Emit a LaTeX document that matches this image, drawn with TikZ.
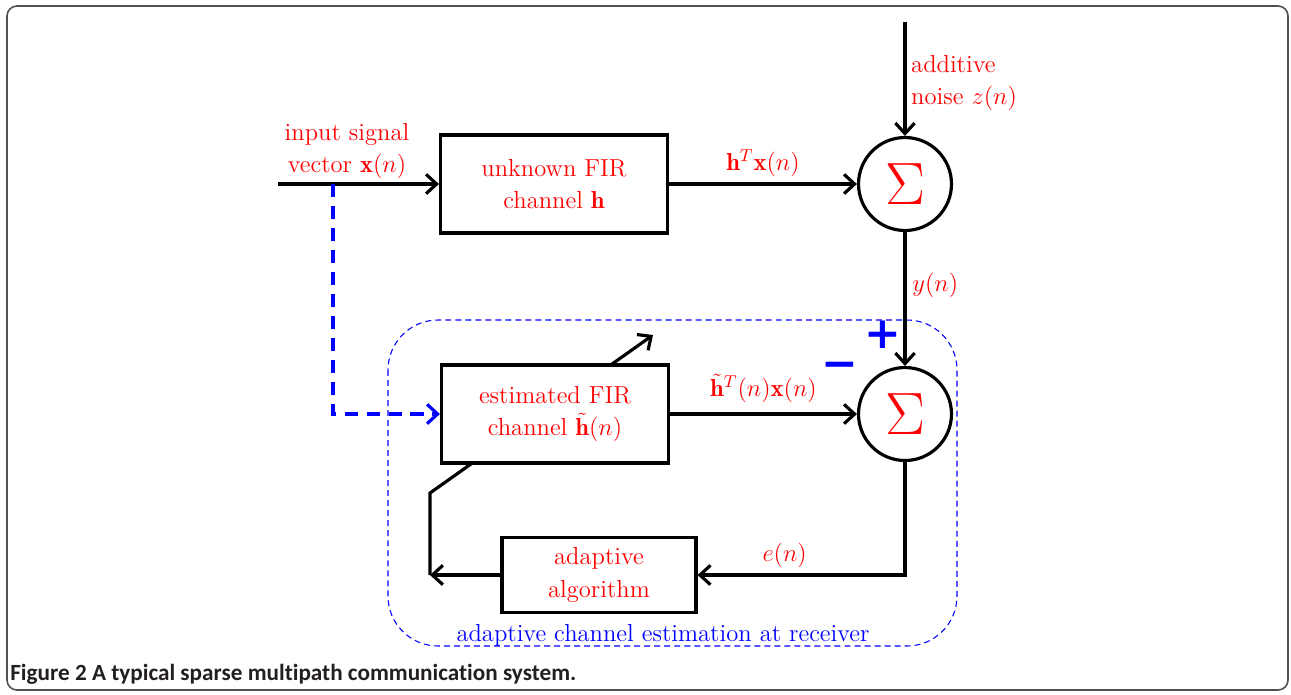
\documentclass[tikz,border=0pt]{standalone}
\usepackage{fix-cm}
\usepackage{amsmath}
\usepackage{fontspec}
\usepackage{xcolor}
\usepackage{tikz}
\usetikzlibrary{arrows.meta, positioning, calc}
\newfontfamily\captionfont[Ligatures=NoCommon]{Carlito}
\newfontfamily\signfont{DejaVu Sans}
\definecolor{framegray}{RGB}{80,80,80}
\definecolor{captiongray}{RGB}{35,31,32}

\begin{document}
\begin{tikzpicture}[x=0.02cm, y=-0.02cm,
  font=\fontsize{14}{18.5}\selectfont,
  wire/.style={line width=1.8pt, -{Straight Barb[length=6pt,width=11pt]}},
  block/.style={draw, line width=1.8pt, fill=white, text=red, align=center,
    minimum width=4.54cm, minimum height=1.96cm},
  summer/.style={draw, circle, line width=1.8pt, fill=white, text=red,
    minimum size=1.86cm, inner sep=0pt, font=\fontsize{34}{34}\selectfont},
  lbl/.style={text=red},
  sign/.style={text=blue, font=\signfont\bfseries\fontsize{25}{25}\selectfont}]
  \useasboundingbox (0,0) rectangle (1291,694);
  \draw[framegray, line width=0.9pt, rounded corners=0.2cm] (7,6) rectangle (1288,690);

  \coordinate (src) at (278,184);
  \coordinate (tap) at (333,184);
  \coordinate (noise) at (905,22);
  \coordinate (fbk) at (430,575);
  \coordinate (bend) at (430,493);
  \coordinate (tune) at (653,335);

  % receiver region
  \draw[blue, line width=0.6pt, dash pattern=on 3.4pt off 2.3pt, rounded corners=1cm]
    (388,320) rectangle (957,646);
  \node[text=blue, anchor=base] (regionlbl) at (663,641) {adaptive channel estimation at receiver};

  % adaptation arrow, runs behind the estimator
  \draw[wire] (fbk) -- (bend) -- (tune);

  % blocks
  \node[block] (fir) at (554,184) {unknown FIR\\ channel $\mathbf{h}$};
  \node[block] (est) at (555,414) {estimated FIR\\ channel $\tilde{\mathbf{h}}(n)$};
  \node[block, minimum width=3.88cm, minimum height=1.5cm] (algo) at (599,575) {adaptive\\ algorithm};
  \node[summer] (sum1) at (905,184) {$\Sigma$};
  \node[summer] (sum2) at (905,414) {$\Sigma$};

  % signal paths
  \draw[wire] (src) -- (fir);
  \draw[wire] (fir) -- (sum1) node[midway, above, lbl] {$\mathbf{h}^T\mathbf{x}(n)$};
  \draw[wire] (noise) -- (sum1);
  \draw[wire] (sum1) -- (sum2) node[pos=0.4, right, lbl] {$y(n)$};
  \draw[wire] (est) -- (sum2) node[midway, above=2pt, lbl] {$\tilde{\mathbf{h}}^T(n)\mathbf{x}(n)$};
  \draw[wire] (sum2) |- (algo) node[pos=0.79, above, lbl] {$e(n)$};
  \draw[wire] (algo) -- (fbk);
  \draw[wire, blue, dash pattern=on 7.5pt off 5pt] (tap) |- (est);

  \node[lbl, align=center] (inlbl) at (347,151) {input signal\\ vector $\mathbf{x}(n)$};
  \node[lbl, align=left, anchor=west] (noiselbl) at (905,83) {additive\\ noise $z(n)$};
  \node[sign] (plus) at (883,335) {+};
  \node[sign] (minus) at (840,370) {−};

  \node[anchor=base west, inner sep=0pt, text=captiongray,
    font=\captionfont\bfseries\fontsize{13.2}{15}\selectfont] (caption) at (10,680)
    {Figure 2 A typical sparse multipath communication system.};
\end{tikzpicture}
\end{document}
